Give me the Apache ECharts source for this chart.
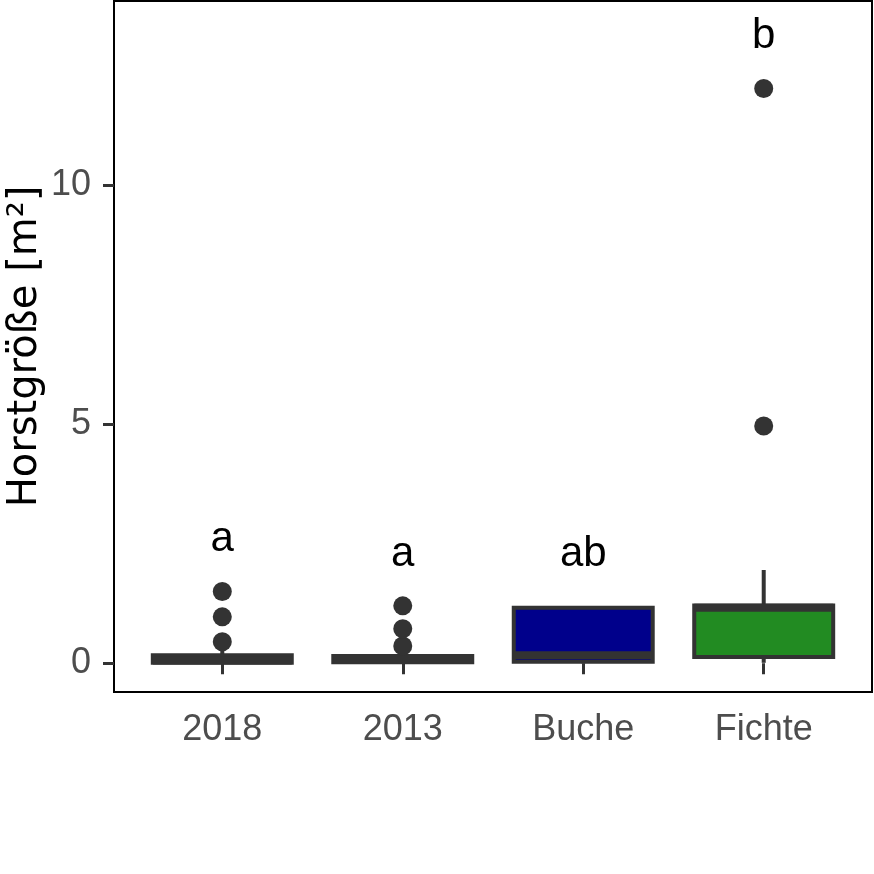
<!DOCTYPE html>
<html>
<head>
<meta charset="utf-8">
<script src="https://cdn.jsdelivr.net/npm/echarts@6/dist/echarts.min.js"></script>
<style>
  html, body { margin: 0; padding: 0; background: #fff; }
  #chart { width: 874px; height: 874px; }
</style>
</head>
<body>
<div id="chart"></div>
<script>
// Gruppen
const categories = ['2018', '2013', 'Buche', 'Fichte'];
// [min, q1, median, q3, max] je Gruppe
const boxStats = [
  [0.00, 0.01, 0.06, 0.17, 0.28],
  [0.00, 0.02, 0.07, 0.15, 0.22],
  [0.00, 0.03, 0.17, 1.16, 1.16],
  [0.01, 0.13, 1.16, 1.21, 1.95]
];
const boxFill = ['#333333', '#333333', '#00008B', '#228B22'];
// Ausreißer [gruppe, wert]
const outliers = [
  [1, 0.45], [1, 0.97], [1, 1.50],
  [2, 0.36], [2, 0.72], [2, 1.20],
  [4, 4.96], [4, 12.01]
];
// Buchstaben der Signifikanzgruppen
const letters = ['a', 'a', 'ab', 'b'];
const letterY = [2.58, 2.28, 2.28, 13.1];
const yTicks = [0, 5, 10];

let chart = echarts.init(document.getElementById('chart'));

let boxData = boxStats.map((s, i) => [i + 1].concat(s));

let option = {
  animation: false,
  grid: {
    left: 114, right: 2, top: 1, bottom: 182,
    outerBoundsMode: 'none', containLabel: false,
    show: true, borderColor: '#000000', borderWidth: 2
  },
  xAxis: {
    type: 'value',
    min: 0.4, max: 4.6,
    axisLine: { show: false },
    splitLine: { show: false },
    axisTick: { show: true, length: 11, customValues: [1, 2, 3, 4],
      lineStyle: { color: '#333333', width: 3 } },
    axisLabel: {
      customValues: [1, 2, 3, 4],
      formatter: v => categories[Math.round(v) - 1],
      color: '#4D4D4D', fontSize: 36, fontFamily: 'Liberation Sans', margin: 20
    }
  },
  yAxis: {
    type: 'value',
    min: -0.60, max: 13.84,
    name: 'Horstgröße [m²]',
    nameLocation: 'middle',
    nameMoveOverlap: false,
    nameGap: 68,
    nameTextStyle: { fontSize: 40, fontFamily: 'DejaVu Sans', color: '#000000' },
    axisLine: { show: false },
    splitLine: { show: false },
    axisTick: { show: true, length: 11, customValues: yTicks,
      lineStyle: { color: '#333333', width: 3 } },
    axisLabel: {
      customValues: yTicks,
      color: '#4D4D4D', fontSize: 36, fontFamily: 'Liberation Sans', margin: 23
    }
  },
  series: [
    {
      type: 'custom',
      data: boxData,
      encode: { x: 0, y: [1, 2, 3, 4, 5] },
      renderItem: function (params, api) {
        let x = api.value(0);
        let half = api.size([1, 0])[0] * 0.385;
        let pMin = api.coord([x, api.value(1)]);
        let pQ1 = api.coord([x, api.value(2)]);
        let pMed = api.coord([x, api.value(3)]);
        let pQ3 = api.coord([x, api.value(4)]);
        let pMax = api.coord([x, api.value(5)]);
        let stroke = { stroke: '#333333', lineWidth: 4 };
        return {
          type: 'group',
          children: [
            { type: 'line', shape: { x1: pMax[0], y1: pMax[1], x2: pQ3[0], y2: pQ3[1] }, style: stroke },
            { type: 'line', shape: { x1: pQ1[0], y1: pQ1[1], x2: pMin[0], y2: pMin[1] }, style: stroke },
            { type: 'rect',
              shape: { x: pQ3[0] - half, y: pQ3[1], width: half * 2, height: pQ1[1] - pQ3[1] },
              style: { fill: boxFill[params.dataIndex], stroke: '#333333', lineWidth: 4 } },
            { type: 'line',
              shape: { x1: pMed[0] - half, y1: pMed[1], x2: pMed[0] + half, y2: pMed[1] },
              style: { stroke: '#333333', lineWidth: 8 } }
          ]
        };
      }
    },
    {
      type: 'scatter',
      data: outliers,
      symbolSize: 19,
      itemStyle: { color: '#333333', opacity: 1 }
    },
    {
      type: 'scatter',
      data: letters.map((t, i) => ({ name: t, value: [i + 1, letterY[i]] })),
      symbolSize: 0,
      itemStyle: { opacity: 1 },
      label: {
        show: true, position: 'inside', formatter: '{b}',
        color: '#000000', fontSize: 42, fontFamily: 'Liberation Sans'
      }
    }
  ]
};
chart.setOption(option);
</script>
</body>
</html>
